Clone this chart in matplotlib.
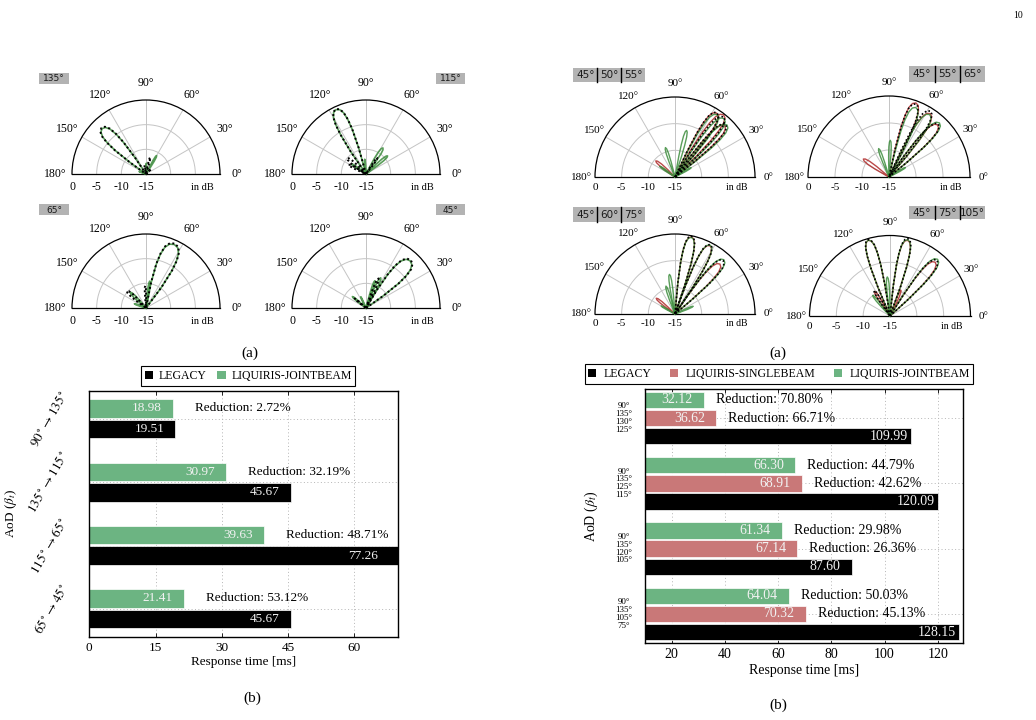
import numpy as np
import matplotlib
matplotlib.use('Agg')
import matplotlib.pyplot as plt
from matplotlib.patches import Patch, Rectangle
from matplotlib.lines import Line2D
from matplotlib.transforms import offset_copy

plt.rcParams['font.family'] = ['Liberation Serif', 'DejaVu Serif']
plt.rcParams['mathtext.fontset'] = 'stix'

# ------------------------------------------------------------------ data
# Lobe outline template (fraction of half-width, dB below peak)
LOBE_T = [-1.0, -0.85, -0.72, -0.6, -0.45, -0.25, 0.0, 0.25, 0.45, 0.6, 0.72, 0.85, 1.0]
LOBE_DROP = [15, 9, 5, 2.8, 1.2, 0.3, 0.0, 0.3, 1.2, 2.8, 5, 9, 15]

# lobes: (centre angle deg, peak dB, half-width deg)
P135_LEGACY = [(134, -2.0, 12), (76, -11.5, 6), (100, -13.2, 5), (45, -13.5, 5)]
P135_JOINT = [(134, -2.2, 12), (60, -10.7, 6), (88, -12.8, 5), (160, -13.5, 6)]
P115_LEGACY = [(115, -0.5, 11), (140, -10.0, 10), (152, -11.0, 8), (55, -11.0, 6)]
P115_JOINT = [(115, -0.6, 11), (57, -8.7, 8), (40, -9.3, 7), (145, -11.5, 8), (95, -12.0, 5)]
P65_LEGACY = [(66, -0.7, 15), (138, -9.8, 10), (92, -10.5, 5)]
P65_JOINT = [(66, -0.9, 15), (135, -10.5, 9), (82, -9.5, 5), (160, -12.5, 8)]
P45_LEGACY = [(47, -1.7, 14), (67, -8.5, 6), (140, -12.0, 6)]
P45_JOINT = [(47, -1.9, 14), (64, -8.2, 6), (72, -9.2, 5), (140, -11.4, 7), (115, -12.5, 5)]

Q1_LEGACY = [(57, -0.6, 9), (51, -0.5, 9), (46, -1.3, 9)]
Q1_SINGLE = [(57, -0.7, 9), (52, -0.2, 9), (46, -1.6, 9), (140, -10.3, 9)]
Q1_JOINT = [(56, -0.9, 9), (50, -0.7, 9), (45, -1.2, 9), (76, -6.0, 5), (108, -9.2, 6),
            (145, -11.5, 7), (30, -11.5, 6)]
Q2_LEGACY = [(70, -0.6, 9), (58, -0.6, 9), (47, -1.6, 9)]
Q2_SINGLE = [(70, -0.4, 9), (57, -1.0, 9), (47, -1.8, 9), (145, -9.2, 9)]
Q2_JOINT = [(69, -1.2, 9), (57, -1.2, 9), (47, -1.3, 9), (88, -8.2, 5), (110, -9.4, 6),
            (30, -11.5, 6)]
Q3_LEGACY = [(78, -0.1, 8), (63, -0.4, 8), (48, -1.5, 9)]
Q3_SINGLE = [(78, -0.2, 8), (63, -0.6, 8), (48, -2.4, 9), (140, -10.4, 8)]
Q3_JOINT = [(78, -0.3, 8), (63, -0.5, 8), (48, -1.3, 9), (98, -7.5, 5), (108, -9.5, 6),
            (23, -11.3, 6), (150, -12.0, 6)]
Q4_LEGACY = [(106, -0.2, 8), (77, -0.2, 8), (50, -1.4, 9), (122, -9.4, 6)]
Q4_SINGLE = [(106, -0.3, 8), (77, -0.5, 8), (50, -1.9, 9), (122, -9.6, 7), (67, -9.8, 6)]
Q4_JOINT = [(106, -0.3, 8), (77, -0.4, 8), (50, -1.2, 9), (94, -7.7, 5), (130, -10.0, 6)]

THETA_TICKS = [0, 30, 60, 90, 120, 150, 180]
R_TICKS = [0, -5, -10, -15]

# left bar chart
L_CATS = [r'$90^\circ\rightarrow135^\circ$', r'$135^\circ\rightarrow115^\circ$',
          r'$115^\circ\rightarrow65^\circ$', r'$65^\circ\rightarrow45^\circ$']
L_JOINT = [18.98, 30.97, 39.63, 21.41]
L_LEGACY = [19.51, 45.67, 77.26, 45.67]
L_RED = [2.72, 32.19, 48.71, 53.12]
L_XTICKS = [0, 15, 30, 45, 60]

# right bar chart
R_CATS = ['90°\n135°\n130°\n125°', '90°\n135°\n125°\n115°',
          '90°\n135°\n120°\n105°', '90°\n135°\n105°\n75°']
R_JOINT = [32.12, 66.30, 61.34, 64.04]
R_SINGLE = [36.62, 68.91, 67.14, 70.32]
R_LEGACY = [109.99, 120.09, 87.60, 128.15]
R_RED_JOINT = [70.80, 44.79, 29.98, 50.03]
R_RED_SINGLE = [66.71, 42.62, 26.36, 45.13]
R_XTICKS = [20, 40, 60, 80, 100, 120]

GREEN_BAR = '#6cb482'
RED_BAR = '#c97878'

# ------------------------------------------------------------------ figure
W, H = 1036, 720
fig = plt.figure(figsize=(W / 100, H / 100), dpi=100)


def rect(x0, y0, x1, y1):
    return [x0 / W, 1 - y1 / H, (x1 - x0) / W, (y1 - y0) / H]


STY = {
    'legacy': dict(color='black', ls=(0, (1, 1.3)), alpha=1.0, z=4),
    'single': dict(color='#b02a2a', ls='-', alpha=0.85, z=2),
    'joint': dict(color='#3c8c3c', ls='-', alpha=0.85, z=3),
}


def polar_panel(cx, cy, R, traces, lw, fs, pad, dby):
    # square box: the half disk is fitted to its width and centred vertically
    ax = fig.add_axes(rect(cx - R, cy - 1.5 * R, cx + R, cy + 0.5 * R), projection='polar')
    ax.set_thetamin(0)
    ax.set_thetamax(180)
    ax.set_rlim(-15, 0)
    ax.set_yticks([-10, -5])
    ax.set_yticklabels([])
    ax.set_xticks(np.radians(THETA_TICKS))
    ax.set_xticklabels([f'{a}°' for a in THETA_TICKS])
    ax.tick_params(axis='x', labelsize=fs, pad=pad, length=0)
    ax.tick_params(axis='y', length=0)
    ax.grid(True, color='#c4c4c4', lw=0.7)
    for s in ax.spines.values():
        s.set_color('black')
        s.set_linewidth(0.9)
    t = np.array(LOBE_T)
    d = np.array(LOBE_DROP)
    for lobes, kind in traces:
        st = STY[kind]
        for c, p, w in lobes:
            ang = np.radians(c + w * t)
            r = np.maximum(p - d, -15)
            ax.plot(ang, r, color=st['color'], ls=st['ls'], lw=lw if kind != 'legacy' else lw + 0.2,
                    alpha=st['alpha'], zorder=st['z'], clip_on=False)
    tr = offset_copy(ax.transData, fig=fig, x=0, y=-dby, units='dots')
    for v in R_TICKS:
        ax.text(np.pi, v, f'{v}', transform=tr, ha='center', va='center', fontsize=fs)
    ax.text(0, -3.5, 'in dB', transform=tr, ha='center', va='center', fontsize=fs - 1)
    return ax


def badge(x0, y0, x1, y1, labels, fs):
    fig.patches.append(Rectangle((x0 / W, 1 - y1 / H), (x1 - x0) / W, (y1 - y0) / H,
                                 transform=fig.transFigure, fc='#b3b3b3', ec='none'))
    n = len(labels)
    seg = (x1 - x0) / n
    for i, s in enumerate(labels):
        fig.text((x0 + seg * (i + 0.5)) / W, 1 - ((y0 + y1) / 2 + 0.5) / H, s,
                 ha='center', va='center', fontsize=fs, family='DejaVu Sans', color='#1a1a1a')
        if i > 0:
            xs = (x0 + seg * i) / W
            fig.lines.append(Line2D([xs, xs], [1 - y1 / H, 1 - y0 / H], transform=fig.transFigure,
                                    color='black', lw=1.0))


# left polar panels
polar_panel(146, 174, 74, [(P135_JOINT, 'joint'), (P135_LEGACY, 'legacy')], 1.2, 8.5, 5, 13)
polar_panel(366, 174, 74, [(P115_JOINT, 'joint'), (P115_LEGACY, 'legacy')], 1.2, 8.5, 5, 13)
polar_panel(146, 308, 74, [(P65_JOINT, 'joint'), (P65_LEGACY, 'legacy')], 1.2, 8.5, 5, 13)
polar_panel(366, 308, 74, [(P45_JOINT, 'joint'), (P45_LEGACY, 'legacy')], 1.2, 8.5, 5, 13)
badge(39.3, 72.7, 69.3, 84, ['135°'], 6.5)
badge(435.7, 72.7, 465, 84, ['115°'], 6.5)
badge(39.3, 204.5, 69.3, 215.5, ['65°'], 6.5)
badge(435.7, 204.5, 465, 215.5, ['45°'], 6.5)

# right polar panels
polar_panel(675, 177, 80, [(Q1_JOINT, 'joint'), (Q1_SINGLE, 'single'), (Q1_LEGACY, 'legacy')], 1.0, 8, 2.5, 10)
polar_panel(889, 177, 81, [(Q2_JOINT, 'joint'), (Q2_SINGLE, 'single'), (Q2_LEGACY, 'legacy')], 1.0, 8, 2.5, 10)
polar_panel(675, 314, 80, [(Q3_JOINT, 'joint'), (Q3_SINGLE, 'single'), (Q3_LEGACY, 'legacy')], 1.0, 8, 2.5, 10)
polar_panel(890, 316, 80.5, [(Q4_JOINT, 'joint'), (Q4_SINGLE, 'single'), (Q4_LEGACY, 'legacy')], 1.0, 8, 2.5, 10)
badge(573.3, 68.3, 645, 81.7, ['45°', '50°', '55°'], 7.5)
badge(909.3, 66, 985, 81.7, ['45°', '55°', '65°'], 7.5)
badge(573.3, 207.3, 645, 221.7, ['45°', '60°', '75°'], 7.5)
badge(909.3, 206, 985, 219.3, ['45°', '75°', '105°'], 7.5)

# captions
fig.text(250 / W, 1 - 353 / H, '(a)', ha='center', va='center', fontsize=11)
fig.text(778 / W, 1 - 353 / H, '(a)', ha='center', va='center', fontsize=11)
fig.text(252 / W, 1 - 698 / H, '(b)', ha='center', va='center', fontsize=11)
fig.text(778 / W, 1 - 705 / H, '(b)', ha='center', va='center', fontsize=11)
fig.text(1018 / W, 1 - 15 / H, '10', ha='center', va='center', fontsize=7)


def style_bar_axes(ax, fs):
    ax.tick_params(axis='x', direction='in', top=True, length=3, width=0.6, labelsize=fs, pad=4)
    ax.tick_params(axis='y', length=0)
    ax.grid(True, ls=(0, (1, 2.5)), color='#b5b5b5', lw=0.7)
    ax.set_axisbelow(True)
    for s in ax.spines.values():
        s.set_linewidth(1.0)


# ---------------- left bar chart
axL = fig.add_axes(rect(89.3, 391, 398.3, 636.7))
yL = np.arange(len(L_CATS))
XMAX_L = 70
axL.barh(yL - 0.165, L_JOINT, height=0.29, color=GREEN_BAR, edgecolor='white', lw=0.5, zorder=2)
axL.barh(yL + 0.16, L_LEGACY, height=0.29, color='black', edgecolor='white', lw=0.5, zorder=2)
axL.set_xlim(0, XMAX_L)
axL.set_ylim(3.44, -0.44)
axL.set_xticks(L_XTICKS)
axL.set_yticks(yL)
axL.set_yticklabels(L_CATS, rotation=60, ha='right', va='center', fontsize=9.5)
style_bar_axes(axL, 9.5)
axL.tick_params(axis='y', pad=13)
for yy, v in zip(yL - 0.165, L_JOINT):
    axL.annotate(f'{v:.2f}', xy=(min(v, XMAX_L - 2), yy), xytext=(-11, 0), textcoords='offset pixels',
                 ha='right', va='center', color='#f2f2f2', fontsize=9.5, zorder=5)
for yy, v in zip(yL + 0.16, L_LEGACY):
    axL.annotate(f'{v:.2f}', xy=(min(v, XMAX_L - 2), yy), xytext=(-11, 0), textcoords='offset pixels',
                 ha='right', va='center', color='#f2f2f2', fontsize=9.5, zorder=5)
for yy, v, r in zip(yL - 0.165, L_JOINT, L_RED):
    axL.annotate(f'Reduction: {r:.2f}%', xy=(v, yy), xytext=(22, 0), textcoords='offset pixels',
                 ha='left', va='center', fontsize=9.5, zorder=5)
axL.set_xlabel('Response time [ms]', fontsize=9.5)
axL.xaxis.set_label_coords(0.5, -0.077)
axL.set_ylabel(r'AoD ($\beta_t$)', fontsize=9.5)
axL.yaxis.set_label_coords(-0.229, 0.5)
legL = fig.legend(handles=[Patch(fc='black', ec='none', label='LEGACY'),
                           Patch(fc=GREEN_BAR, ec='none', label='LIQUIRIS-JOINTBEAM')],
                  loc='center', bbox_to_anchor=(248.3 / W, 1 - 376 / H), ncol=2, fontsize=8.5,
                  frameon=True, fancybox=False, edgecolor='black', framealpha=1,
                  handlelength=0.7, handleheight=0.7, handletextpad=0.5, columnspacing=0.9,
                  borderpad=0.3)
legL.get_frame().set_linewidth(0.8)

# ---------------- right bar chart
axR = fig.add_axes(rect(645, 389.3, 963.3, 642.7))
yR = np.arange(len(R_CATS))
XMAX_R = 129.6
axR.barh(yR - 0.28, R_JOINT, height=0.25, color=GREEN_BAR, edgecolor='white', lw=0.5, zorder=2)
axR.barh(yR, R_SINGLE, height=0.25, color=RED_BAR, edgecolor='white', lw=0.5, zorder=2)
axR.barh(yR + 0.28, R_LEGACY, height=0.25, color='black', edgecolor='white', lw=0.5, zorder=2)
axR.set_xlim(10, XMAX_R)
axR.set_ylim(3.44, -0.44)
axR.set_xticks(R_XTICKS)
axR.set_yticks(yR)
axR.set_yticklabels(R_CATS, fontsize=6.5, linespacing=0.95, ha='right', va='center',
                    multialignment='center')
style_bar_axes(axR, 10)
axR.tick_params(axis='y', pad=9)
for off, vals in ((-0.28, R_JOINT), (0.0, R_SINGLE), (0.28, R_LEGACY)):
    for yy, v in zip(yR + off, vals):
        s = f'{v:.2f}'
        axR.annotate(s, xy=(v, yy), xytext=(-11 if len(s) < 6 else -3.5, 0),
                     textcoords='offset pixels', ha='right', va='center', color='#f2f2f2',
                     fontsize=10, zorder=5)
for off, vals, reds in ((-0.28, R_JOINT, R_RED_JOINT), (0.0, R_SINGLE, R_RED_SINGLE)):
    for yy, v, r in zip(yR + off, vals, reds):
        axR.annotate(f'Reduction: {r:.2f}%', xy=(v, yy), xytext=(12, 0), textcoords='offset pixels',
                     ha='left', va='center', fontsize=10, zorder=5)
axR.set_xlabel('Response time [ms]', fontsize=10)
axR.xaxis.set_label_coords(0.5, -0.085)
axR.set_ylabel(r'AoD ($\beta_t$)', fontsize=10)
axR.yaxis.set_label_coords(-0.141, 0.5)
legR = fig.legend(handles=[Patch(fc='black', ec='none', label='LEGACY'),
                           Patch(fc=RED_BAR, ec='none', label='LIQUIRIS-SINGLEBEAM'),
                           Patch(fc=GREEN_BAR, ec='none', label='LIQUIRIS-JOINTBEAM')],
                  loc='center', bbox_to_anchor=(779 / W, 1 - 374 / H), ncol=3, fontsize=8.5,
                  frameon=True, fancybox=False, edgecolor='black', framealpha=1,
                  handlelength=0.7, handleheight=0.7, handletextpad=0.6, columnspacing=1.6,
                  borderpad=0.3)
legR.get_frame().set_linewidth(0.8)

fig.savefig('out.png', dpi=100)
